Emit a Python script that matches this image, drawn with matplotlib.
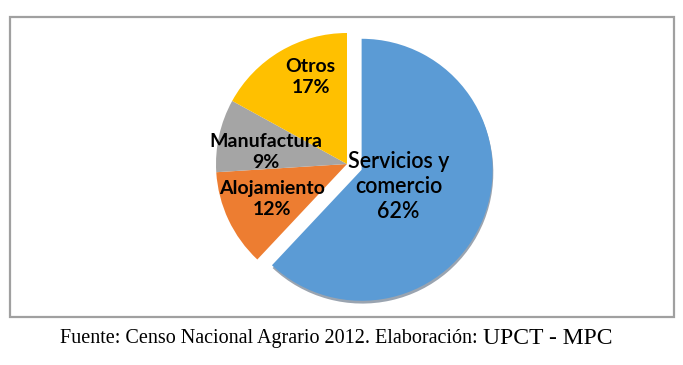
import matplotlib.pyplot as plt
import matplotlib.patheffects as pe
from matplotlib.patches import Rectangle
import numpy as np

# datos
categorias = ['Servicios y\ncomercio', 'Alojamiento', 'Manufactura', 'Otros']
porcentajes = [62, 12, 9, 17]
colores = ['#5B9BD5', '#ED7D31', '#A5A5A5', '#FFC000']
separacion = [0.12, 0, 0, 0]
fuente = 'Fuente: Censo Nacional Agrario 2012. Elaboración: '
autor = 'UPCT - MPC'

W, H = 683, 365
fig = plt.figure(figsize=(W / 100, H / 100), dpi=100)

# ejes que ocupan toda la figura, 1 unidad = r pixeles
r = 131
cx, cy = 347, H - 164
ax = fig.add_axes([0, 0, 1, 1])

wedges, _ = ax.pie(porcentajes, colors=colores, explode=separacion,
                   startangle=90, counterclock=False, radius=1,
                   wedgeprops=dict(linewidth=0))
# sombra solo en el sector separado
wedges[0].set_path_effects([pe.SimplePatchShadow(offset=(0.5, -2), shadow_rgbFace='#1f3550', alpha=0.45),
                            pe.Normal()])

ax.set_aspect('auto')
ax.set_xlim(-cx / r, (W - cx) / r)
ax.set_ylim(-cy / r, (H - cy) / r)
ax.axis('off')

# etiquetas dentro de cada sector (distancia, ajuste de angulo)
dist = [0.31, 0.63, 0.63, 0.72]
giro = [-3, 0, 4, -8]
for w, cat, p, d, g in zip(wedges, categorias, porcentajes, dist, giro):
    ang = np.deg2rad((w.theta1 + w.theta2) / 2 + g)
    x = w.center[0] + d * np.cos(ang)
    y = w.center[1] + d * np.sin(ang)
    if p == 62:
        ax.text(x, y, f'{cat}\n{p}%', ha='center', va='center', fontsize=15.5,
                family='Lato', fontweight='semibold', linespacing=1.22, color='black')
    else:
        ax.text(x, y, f'{cat}\n{p}%', ha='center', va='center', fontsize=14,
                family='Lato', fontweight='bold', linespacing=1.3, color='black')

# marco del grafico
fig.patches.append(Rectangle((10 / W, 1 - 317 / H), 664 / W, 300 / H,
                             transform=fig.transFigure, fill=False,
                             edgecolor='#A0A0A0', linewidth=1.6))

# nota de fuente
t = fig.text(60 / W, 1 - 339 / H, fuente, family='Liberation Serif', fontsize=14.5,
             ha='left', va='center')
fig.canvas.draw()
bb = t.get_window_extent()
fig.text(bb.x1 / W, 1 - 339 / H, autor, family='Liberation Serif', fontsize=17,
         ha='left', va='center')

fig.savefig('out.png', dpi=100)
